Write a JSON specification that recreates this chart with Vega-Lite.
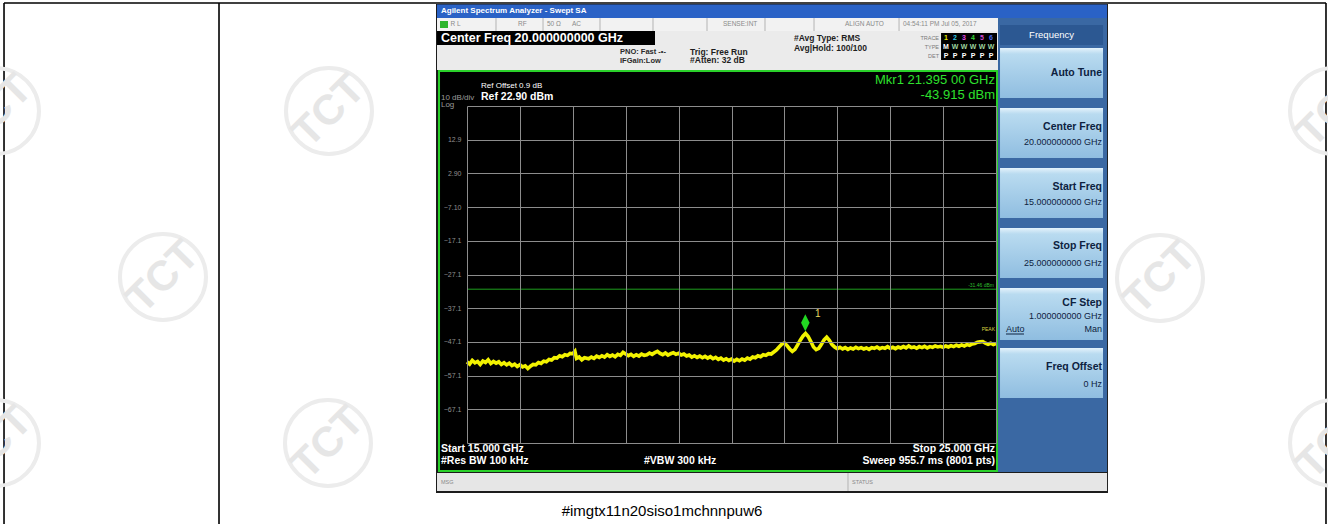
{
  "$schema": "https://vega.github.io/schema/vega-lite/v6.json",
  "autosize": {"type": "none"},
  "padding": {"left": 467, "top": 106, "right": 332, "bottom": 81},
  "width": 529,
  "height": 337,
  "background": "white",
  "config": {"view": {"stroke": null}, "text": {"font": "Liberation Sans"}},
  "resolve": {"scale": {"color": "independent"}},
  "encoding": {
    "x": {"field": "f", "type": "quantitative", "scale": {"domain": [15, 25], "nice": false, "zero": false},
      "axis": {"values": [15, 16, 17, 18, 19, 20, 21, 22, 23, 24, 25], "grid": true, "labels": false, "ticks": false, "domain": false, "title": null, "gridColor": "#8c8c8c", "gridWidth": 1, "zindex": 1}},
    "y": {"field": "lvl", "type": "quantitative", "scale": {"domain": [-77.1, 22.9], "nice": false, "zero": false},
      "axis": {"values": [22.9, 12.9, 2.9, -7.1, -17.1, -27.1, -37.1, -47.1, -57.1, -67.1, -77.1], "grid": true, "ticks": false, "domain": false, "title": null, "gridColor": "#8c8c8c", "gridWidth": 1, "zindex": 1,
        "labelExpr": "datum.value > 22 || datum.value < -77 ? '' : format(datum.value, '.3r')", "labelColor": "#8f8f8f", "labelFontSize": 7, "labelFont": "Liberation Sans", "labelPadding": 6}}
  },
  "layer": [
    {
      "data": {"values": [
        {"f": 6.248, "f2": 31.238, "lvl": 53.464, "lvl2": 53.464},
        {"f": 6.248, "f2": 6.248, "lvl": 53.464, "lvl2": -102},
        {"f": 10.312, "f2": 10.312, "lvl": 53.464, "lvl2": -102},
        {"f": 31.238, "f2": 31.238, "lvl": 53.464, "lvl2": -102}
      ]},
      "mark": {"type": "rule", "color": "#000000", "strokeWidth": 1.6},
      "encoding": {"x2": {"field": "f2"}, "y2": {"field": "lvl2"}}
    },
    {
      "data": {"values": [
        {"f": 6.096, "lvl": 21.416}, {"f": 9.253, "lvl": -27.842}, {"f": 12.391, "lvl": 21.416},
        {"f": 6.096, "lvl": -77.1}, {"f": 12.372, "lvl": -77.1}, {"f": 28.1, "lvl": -28.139},
        {"f": 31.371, "lvl": 21.416}, {"f": 31.371, "lvl": -77.1}
      ]},
      "mark": {"type": "point", "shape": "circle", "filled": false, "size": 7396, "strokeWidth": 4, "color": "#ececec", "opacity": 1}
    },
    {
      "data": {"values": [
        {"f": 6.096, "lvl": 21.416, "label": "TCT"}, {"f": 9.253, "lvl": -27.842, "label": "TCT"}, {"f": 12.391, "lvl": 21.416, "label": "TCT"},
        {"f": 6.096, "lvl": -77.1, "label": "TCT"}, {"f": 12.372, "lvl": -77.1, "label": "TCT"}, {"f": 28.1, "lvl": -28.139, "label": "TCT"},
        {"f": 31.371, "lvl": 21.416, "label": "TCT"}, {"f": 31.371, "lvl": -77.1, "label": "TCT"}
      ]},
      "mark": {"type": "text", "align": "center", "baseline": "middle", "fontSize": 42, "fontWeight": "bold", "angle": -45, "color": "#e6e6e6"},
      "encoding": {"text": {"field": "label"}}
    },
    {
      "data": {"values": [
        {"part": "bezel", "f": 14.414, "f2": 27.117, "lvl": 53.167, "lvl2": -91.937},
        {"part": "titlebar", "f": 14.433, "f2": 27.099, "lvl": 53.019, "lvl2": 49.013},
        {"part": "statusrow", "f": 14.433, "f2": 25.038, "lvl": 49.013, "lvl2": 45.155},
        {"part": "header", "f": 14.433, "f2": 25.038, "lvl": 45.155, "lvl2": 33.583},
        {"part": "cfbox", "f": 14.433, "f2": 18.554, "lvl": 45.155, "lvl2": 41.001},
        {"part": "lxi", "f": 14.49, "f2": 14.641, "lvl": 48.123, "lvl2": 46.045},
        {"part": "tracebox", "f": 23.961, "f2": 25.019, "lvl": 44.562, "lvl2": 36.55},
        {"part": "softpanel", "f": 25.038, "f2": 27.099, "lvl": 49.013, "lvl2": -85.705},
        {"part": "freqhead", "f": 25.076, "f2": 27.023, "lvl": 46.936, "lvl2": 41.001},
        {"part": "msgbar", "f": 14.433, "f2": 27.099, "lvl": -86.002, "lvl2": -91.343}
      ]},
      "mark": {"type": "rect"},
      "encoding": {
        "x2": {"field": "f2"}, "y2": {"field": "lvl2"},
        "color": {"field": "part", "type": "nominal", "legend": null,
          "scale": {"domain": ["bezel", "titlebar", "statusrow", "header", "cfbox", "lxi", "tracebox", "softpanel", "freqhead", "msgbar"],
            "range": ["#1c1c1c", "#2a62c6", "#f2f2f2", "#ebebeb", "#000000", "#2db52d", "#000000", "#3a68a3", "#2c5892", "#e6e6e6"]}}
      }
    },
    {
      "data": {"values": [
        {"f": 25.076, "f2": 27.023, "lvl": 40.111, "lvl2": 25.274},
        {"f": 25.076, "f2": 27.023, "lvl": 22.307, "lvl2": 7.47},
        {"f": 25.076, "f2": 27.023, "lvl": 4.502, "lvl2": -10.334},
        {"f": 25.076, "f2": 27.023, "lvl": -13.302, "lvl2": -28.139},
        {"f": 25.076, "f2": 27.023, "lvl": -31.106, "lvl2": -46.536},
        {"f": 25.076, "f2": 27.023, "lvl": -48.91, "lvl2": -63.747}
      ]},
      "mark": {"type": "rect", "color": {"gradient": "linear", "x1": 0, "y1": 0, "x2": 0, "y2": 1,
        "stops": [{"offset": 0, "color": "#e4f2fb"}, {"offset": 0.12, "color": "#b9dbf0"}, {"offset": 1, "color": "#8fbde0"}]}},
      "encoding": {"x2": {"field": "f2"}, "y2": {"field": "lvl2"}}
    },
    {
      "data": {"values": [{"f": 14.471, "f2": 25.019, "lvl": 33.286, "lvl2": -85.409}]},
      "mark": {"type": "rect", "color": "#000000", "stroke": "#2ad12a", "strokeWidth": 2},
      "encoding": {"x2": {"field": "f2"}, "y2": {"field": "lvl2"}}
    },
    {
      "data": {"values": [
        {"f": 15.548, "f2": 15.548, "lvl": 49.013, "lvl2": 45.155},
        {"f": 16.437, "f2": 16.437, "lvl": 49.013, "lvl2": 45.155},
        {"f": 17.514, "f2": 17.514, "lvl": 49.013, "lvl2": 45.155},
        {"f": 18.516, "f2": 18.516, "lvl": 49.013, "lvl2": 45.155},
        {"f": 19.537, "f2": 19.537, "lvl": 49.013, "lvl2": 45.155},
        {"f": 20.633, "f2": 20.633, "lvl": 49.013, "lvl2": 45.155},
        {"f": 21.56, "f2": 21.56, "lvl": 49.013, "lvl2": 45.155},
        {"f": 23.167, "f2": 23.167, "lvl": 49.013, "lvl2": 45.155},
        {"f": 22.202, "f2": 22.202, "lvl": -86.002, "lvl2": -91.343}
      ]},
      "mark": {"type": "rule", "color": "#b4b4b4", "strokeWidth": 1},
      "encoding": {"x2": {"field": "f2"}, "y2": {"field": "lvl2"}}
    },
    {
      "data": {"values": [{"f": 25.189, "f2": 25.529, "lvl": -44.76, "lvl2": -44.76}]},
      "mark": {"type": "rule", "color": "#0d2240", "strokeWidth": 1},
      "encoding": {"x2": {"field": "f2"}, "y2": {"field": "lvl2"}}
    },
    {
      "data": {"values": [{"f": 15, "f2": 25, "lvl": -31.46}]},
      "mark": {"type": "rule", "color": "#1e9e1e", "strokeWidth": 1},
      "encoding": {"x2": {"field": "f2"}}
    },
    {
      "data": {"values": [
        {"f": 15.00, "lvl": -53.0}, {"f": 15.05, "lvl": -53.7}, {"f": 15.10, "lvl": -52.6}, {"f": 15.15, "lvl": -53.3}, {"f": 15.20, "lvl": -52.9},
        {"f": 15.25, "lvl": -53.8}, {"f": 15.30, "lvl": -52.8}, {"f": 15.35, "lvl": -53.2}, {"f": 15.40, "lvl": -52.4}, {"f": 15.45, "lvl": -53.5},
        {"f": 15.50, "lvl": -52.9}, {"f": 15.55, "lvl": -53.4}, {"f": 15.60, "lvl": -53.0}, {"f": 15.65, "lvl": -53.8}, {"f": 15.70, "lvl": -53.3},
        {"f": 15.75, "lvl": -53.9}, {"f": 15.80, "lvl": -53.4}, {"f": 15.85, "lvl": -54.1}, {"f": 15.90, "lvl": -53.7}, {"f": 15.95, "lvl": -54.4},
        {"f": 16.00, "lvl": -53.9}, {"f": 16.05, "lvl": -54.5}, {"f": 16.10, "lvl": -54.2}, {"f": 16.15, "lvl": -55.0}, {"f": 16.20, "lvl": -54.3},
        {"f": 16.25, "lvl": -53.8}, {"f": 16.30, "lvl": -53.9}, {"f": 16.35, "lvl": -53.2}, {"f": 16.40, "lvl": -53.5}, {"f": 16.45, "lvl": -52.8},
        {"f": 16.50, "lvl": -53.0}, {"f": 16.55, "lvl": -52.3}, {"f": 16.60, "lvl": -52.5}, {"f": 16.65, "lvl": -51.8}, {"f": 16.70, "lvl": -51.9},
        {"f": 16.75, "lvl": -51.2}, {"f": 16.80, "lvl": -51.5}, {"f": 16.85, "lvl": -50.9}, {"f": 16.90, "lvl": -51.1}, {"f": 16.95, "lvl": -50.5},
        {"f": 17.00, "lvl": -50.6}, {"f": 17.04, "lvl": -49.9}, {"f": 17.07, "lvl": -52.0}, {"f": 17.12, "lvl": -51.6}, {"f": 17.17, "lvl": -52.4},
        {"f": 17.22, "lvl": -51.8}, {"f": 17.30, "lvl": -52.1}, {"f": 17.35, "lvl": -51.6}, {"f": 17.40, "lvl": -52.0}, {"f": 17.45, "lvl": -51.3},
        {"f": 17.50, "lvl": -51.7}, {"f": 17.55, "lvl": -51.2}, {"f": 17.60, "lvl": -51.6}, {"f": 17.65, "lvl": -50.9}, {"f": 17.70, "lvl": -51.4},
        {"f": 17.75, "lvl": -51.0}, {"f": 17.80, "lvl": -51.5}, {"f": 17.85, "lvl": -50.8}, {"f": 17.90, "lvl": -51.1}, {"f": 17.95, "lvl": -50.2},
        {"f": 18.00, "lvl": -50.7}, {"f": 18.05, "lvl": -51.2}, {"f": 18.10, "lvl": -50.8}, {"f": 18.15, "lvl": -51.4}, {"f": 18.20, "lvl": -50.9},
        {"f": 18.25, "lvl": -51.3}, {"f": 18.30, "lvl": -50.7}, {"f": 18.35, "lvl": -51.1}, {"f": 18.40, "lvl": -50.9}, {"f": 18.45, "lvl": -50.4},
        {"f": 18.50, "lvl": -50.8}, {"f": 18.55, "lvl": -50.3}, {"f": 18.60, "lvl": -49.9}, {"f": 18.65, "lvl": -50.5}, {"f": 18.70, "lvl": -50.9},
        {"f": 18.75, "lvl": -50.4}, {"f": 18.80, "lvl": -51.0}, {"f": 18.85, "lvl": -50.6}, {"f": 18.90, "lvl": -50.3}, {"f": 18.95, "lvl": -50.8},
        {"f": 19.00, "lvl": -50.5}, {"f": 19.05, "lvl": -51.0}, {"f": 19.10, "lvl": -50.7}, {"f": 19.15, "lvl": -51.3}, {"f": 19.20, "lvl": -51.0},
        {"f": 19.25, "lvl": -51.6}, {"f": 19.30, "lvl": -51.2}, {"f": 19.35, "lvl": -51.7}, {"f": 19.40, "lvl": -51.3}, {"f": 19.45, "lvl": -51.8},
        {"f": 19.50, "lvl": -51.4}, {"f": 19.55, "lvl": -51.9}, {"f": 19.60, "lvl": -51.5}, {"f": 19.65, "lvl": -52.1}, {"f": 19.70, "lvl": -51.7},
        {"f": 19.75, "lvl": -52.3}, {"f": 19.80, "lvl": -51.9}, {"f": 19.85, "lvl": -52.5}, {"f": 19.90, "lvl": -52.1}, {"f": 19.95, "lvl": -52.6},
        {"f": 20.00, "lvl": -52.2}, {"f": 20.05, "lvl": -52.8}, {"f": 20.10, "lvl": -52.3}, {"f": 20.15, "lvl": -52.7}, {"f": 20.20, "lvl": -52.2},
        {"f": 20.25, "lvl": -52.5}, {"f": 20.30, "lvl": -51.9}, {"f": 20.35, "lvl": -52.2}, {"f": 20.40, "lvl": -51.6}, {"f": 20.45, "lvl": -51.8},
        {"f": 20.50, "lvl": -51.2}, {"f": 20.55, "lvl": -51.5}, {"f": 20.60, "lvl": -50.9}, {"f": 20.65, "lvl": -51.1}, {"f": 20.70, "lvl": -50.6},
        {"f": 20.75, "lvl": -50.7}, {"f": 20.80, "lvl": -50.1}, {"f": 20.85, "lvl": -49.5}, {"f": 20.90, "lvl": -48.6}, {"f": 20.95, "lvl": -47.8},
        {"f": 21.00, "lvl": -47.4}, {"f": 21.05, "lvl": -48.2}, {"f": 21.10, "lvl": -49.2}, {"f": 21.15, "lvl": -49.9}, {"f": 21.20, "lvl": -49.3},
        {"f": 21.25, "lvl": -48.0}, {"f": 21.30, "lvl": -46.6}, {"f": 21.35, "lvl": -45.4}, {"f": 21.40, "lvl": -44.6}, {"f": 21.45, "lvl": -45.5},
        {"f": 21.50, "lvl": -47.0}, {"f": 21.55, "lvl": -48.6}, {"f": 21.60, "lvl": -49.4}, {"f": 21.65, "lvl": -49.0}, {"f": 21.70, "lvl": -47.8},
        {"f": 21.75, "lvl": -46.5}, {"f": 21.80, "lvl": -45.7}, {"f": 21.85, "lvl": -46.6}, {"f": 21.90, "lvl": -47.9}, {"f": 21.95, "lvl": -48.6},
        {"f": 22.00, "lvl": -49.1}, {"f": 22.05, "lvl": -48.7}, {"f": 22.10, "lvl": -49.2}, {"f": 22.15, "lvl": -48.8}, {"f": 22.20, "lvl": -49.3},
        {"f": 22.25, "lvl": -48.9}, {"f": 22.30, "lvl": -49.2}, {"f": 22.35, "lvl": -48.7}, {"f": 22.40, "lvl": -49.1}, {"f": 22.45, "lvl": -48.8},
        {"f": 22.50, "lvl": -49.2}, {"f": 22.55, "lvl": -48.9}, {"f": 22.60, "lvl": -49.3}, {"f": 22.65, "lvl": -48.8}, {"f": 22.70, "lvl": -49.0},
        {"f": 22.75, "lvl": -48.6}, {"f": 22.80, "lvl": -49.1}, {"f": 22.85, "lvl": -48.8}, {"f": 22.90, "lvl": -49.0}, {"f": 22.95, "lvl": -48.5},
        {"f": 23.00, "lvl": -49.0}, {"f": 23.05, "lvl": -48.7}, {"f": 23.10, "lvl": -49.1}, {"f": 23.15, "lvl": -48.6}, {"f": 23.20, "lvl": -48.9},
        {"f": 23.25, "lvl": -48.5}, {"f": 23.30, "lvl": -48.9}, {"f": 23.35, "lvl": -48.3}, {"f": 23.40, "lvl": -48.8}, {"f": 23.45, "lvl": -48.6},
        {"f": 23.50, "lvl": -49.0}, {"f": 23.55, "lvl": -48.5}, {"f": 23.60, "lvl": -48.8}, {"f": 23.65, "lvl": -48.4}, {"f": 23.70, "lvl": -48.9},
        {"f": 23.75, "lvl": -48.5}, {"f": 23.80, "lvl": -48.7}, {"f": 23.85, "lvl": -48.3}, {"f": 23.90, "lvl": -48.6}, {"f": 23.95, "lvl": -48.4},
        {"f": 24.00, "lvl": -48.7}, {"f": 24.05, "lvl": -48.3}, {"f": 24.10, "lvl": -48.6}, {"f": 24.15, "lvl": -48.2}, {"f": 24.20, "lvl": -48.5},
        {"f": 24.25, "lvl": -48.1}, {"f": 24.30, "lvl": -48.4}, {"f": 24.35, "lvl": -48.0}, {"f": 24.40, "lvl": -48.3}, {"f": 24.45, "lvl": -47.9},
        {"f": 24.50, "lvl": -48.1}, {"f": 24.55, "lvl": -47.7}, {"f": 24.60, "lvl": -47.6}, {"f": 24.65, "lvl": -47.2}, {"f": 24.70, "lvl": -47.1},
        {"f": 24.75, "lvl": -47.0}, {"f": 24.80, "lvl": -47.5}, {"f": 24.85, "lvl": -47.8}, {"f": 24.90, "lvl": -47.5}, {"f": 24.95, "lvl": -47.9},
        {"f": 25.00, "lvl": -47.6}
      ]},
      "mark": {"type": "line", "color": "#f2f200", "strokeWidth": 3.6}
    },
    {
      "data": {"values": [{"f": 21.395, "lvl": -43.915}]},
      "mark": {"type": "point", "shape": "M0,0L0.5,-1L0,-2L-0.5,-1Z", "filled": true, "size": 289, "color": "#22d822", "opacity": 1}
    },
    {
      "data": {"values": [{"f": 21.578, "lvl": -38.8, "label": "1"}]},
      "mark": {"type": "text", "align": "left", "baseline": "middle", "fontSize": 10, "color": "#e8d860"},
      "encoding": {"text": {"field": "label"}}
    },
    {
      "data": {"values": [{"f": 14.508, "lvl": 51.09, "label": "Agilent Spectrum Analyzer - Swept SA"}]},
      "mark": {"type": "text", "align": "left", "baseline": "middle", "fontSize": 8, "fontWeight": "bold", "color": "#ffffff"},
      "encoding": {"text": {"field": "label"}}
    },
    {
      "data": {"values": [
        {"f": 14.688, "lvl": 47.084, "label": "R L"},
        {"f": 15.964, "lvl": 47.084, "label": "RF"},
        {"f": 16.512, "lvl": 47.084, "label": "50 Ω"},
        {"f": 16.985, "lvl": 47.084, "label": "AC"},
        {"f": 19.839, "lvl": 47.084, "label": "SENSE:INT"},
        {"f": 22.146, "lvl": 47.084, "label": "ALIGN AUTO"},
        {"f": 23.242, "lvl": 47.084, "label": "04:54:11 PM Jul 05, 2017"}
      ]},
      "mark": {"type": "text", "align": "left", "baseline": "middle", "fontSize": 6.5, "color": "#8a8a8a"},
      "encoding": {"text": {"field": "label"}}
    },
    {
      "data": {"values": [{"f": 14.508, "lvl": 43.078, "label": "Center Freq 20.000000000 GHz"}]},
      "mark": {"type": "text", "align": "left", "baseline": "middle", "fontSize": 12.5, "fontWeight": "bold", "color": "#ffffff"},
      "encoding": {"text": {"field": "label"}}
    },
    {
      "data": {"values": [
        {"f": 17.892, "lvl": 38.924, "label": "PNO: Fast  -•-"},
        {"f": 17.892, "lvl": 36.105, "label": "IFGain:Low"}
      ]},
      "mark": {"type": "text", "align": "left", "baseline": "middle", "fontSize": 7.5, "fontWeight": "bold", "color": "#2a2a2a"},
      "encoding": {"text": {"field": "label"}}
    },
    {
      "data": {"values": [
        {"f": 19.216, "lvl": 39.072, "label": "Trig: Free Run"},
        {"f": 19.216, "lvl": 36.402, "label": "#Atten: 32 dB"},
        {"f": 21.182, "lvl": 42.93, "label": "#Avg Type: RMS"},
        {"f": 21.182, "lvl": 40.259, "label": "Avg|Hold: 100/100"}
      ]},
      "mark": {"type": "text", "align": "left", "baseline": "middle", "fontSize": 8.5, "fontWeight": "bold", "color": "#1e1e1e"},
      "encoding": {"text": {"field": "label"}}
    },
    {
      "data": {"values": [
        {"f": 23.923, "lvl": 42.93, "label": "TRACE"},
        {"f": 23.923, "lvl": 40.407, "label": "TYPE"},
        {"f": 23.923, "lvl": 37.885, "label": "DET"}
      ]},
      "mark": {"type": "text", "align": "right", "baseline": "middle", "fontSize": 5.5, "color": "#7a7a7a"},
      "encoding": {"text": {"field": "label"}}
    },
    {
      "data": {"values": [
        {"f": 24.055, "lvl": 42.93, "label": "1", "ch": "t1"}, {"f": 24.225, "lvl": 42.93, "label": "2", "ch": "t2"},
        {"f": 24.395, "lvl": 42.93, "label": "3", "ch": "t3"}, {"f": 24.565, "lvl": 42.93, "label": "4", "ch": "t4"},
        {"f": 24.736, "lvl": 42.93, "label": "5", "ch": "t5"}, {"f": 24.906, "lvl": 42.93, "label": "6", "ch": "t6"},
        {"f": 24.055, "lvl": 40.407, "label": "M", "ch": "m"}, {"f": 24.225, "lvl": 40.407, "label": "W", "ch": "w"},
        {"f": 24.395, "lvl": 40.407, "label": "W", "ch": "w"}, {"f": 24.565, "lvl": 40.407, "label": "W", "ch": "w"},
        {"f": 24.736, "lvl": 40.407, "label": "W", "ch": "w"}, {"f": 24.906, "lvl": 40.407, "label": "W", "ch": "w"},
        {"f": 24.055, "lvl": 37.885, "label": "P", "ch": "p"}, {"f": 24.225, "lvl": 37.885, "label": "P", "ch": "p"},
        {"f": 24.395, "lvl": 37.885, "label": "P", "ch": "p"}, {"f": 24.565, "lvl": 37.885, "label": "P", "ch": "p"},
        {"f": 24.736, "lvl": 37.885, "label": "P", "ch": "p"}, {"f": 24.906, "lvl": 37.885, "label": "P", "ch": "p"}
      ]},
      "mark": {"type": "text", "align": "center", "baseline": "middle", "fontSize": 7, "fontWeight": "bold"},
      "encoding": {
        "text": {"field": "label"},
        "color": {"field": "ch", "type": "nominal", "legend": null,
          "scale": {"domain": ["t1", "t2", "t3", "t4", "t5", "t6", "m", "w", "p"],
            "range": ["#e8e800", "#32c8e6", "#e64ce6", "#38d838", "#d24cd2", "#4a6cf0", "#ffffff", "#9fd49f", "#ffffff"]}}
      }
    },
    {
      "data": {"values": [{"f": 15.265, "lvl": 28.835, "label": "Ref Offset 0.9 dB"}]},
      "mark": {"type": "text", "align": "left", "baseline": "middle", "fontSize": 8, "color": "#ffffff"},
      "encoding": {"text": {"field": "label"}}
    },
    {
      "data": {"values": [
        {"f": 15.265, "lvl": 25.571, "label": "Ref 22.90 dBm"},
        {"f": 14.508, "lvl": -78.88, "label": "Start 15.000 GHz"},
        {"f": 14.508, "lvl": -82.441, "label": "#Res BW 100 kHz"},
        {"f": 18.346, "lvl": -82.441, "label": "#VBW 300 kHz"}
      ]},
      "mark": {"type": "text", "align": "left", "baseline": "middle", "fontSize": 10.5, "fontWeight": "bold", "color": "#ffffff"},
      "encoding": {"text": {"field": "label"}}
    },
    {
      "data": {"values": [
        {"f": 24.981, "lvl": -78.88, "label": "Stop 25.000 GHz"},
        {"f": 24.981, "lvl": -82.441, "label": "Sweep  955.7 ms (8001 pts)"}
      ]},
      "mark": {"type": "text", "align": "right", "baseline": "middle", "fontSize": 10.5, "fontWeight": "bold", "color": "#ffffff"},
      "encoding": {"text": {"field": "label"}}
    },
    {
      "data": {"values": [
        {"f": 14.508, "lvl": 25.274, "label": "10 dB/div"},
        {"f": 14.508, "lvl": 23.345, "label": "Log"}
      ]},
      "mark": {"type": "text", "align": "left", "baseline": "middle", "fontSize": 8, "color": "#9a9a9a"},
      "encoding": {"text": {"field": "label"}}
    },
    {
      "data": {"values": [
        {"f": 24.981, "lvl": 30.615, "label": "Mkr1 21.395 00 GHz"},
        {"f": 24.981, "lvl": 26.164, "label": "-43.915 dBm"}
      ]},
      "mark": {"type": "text", "align": "right", "baseline": "middle", "fontSize": 13, "color": "#2ee02e"},
      "encoding": {"text": {"field": "label"}}
    },
    {
      "data": {"values": [{"f": 24.962, "lvl": -30.216, "label": "-31.46 dBm"}]},
      "mark": {"type": "text", "align": "right", "baseline": "middle", "fontSize": 5, "color": "#2ebf2e"},
      "encoding": {"text": {"field": "label"}}
    },
    {
      "data": {"values": [{"f": 24.981, "lvl": -43.272, "label": "PEAK"}]},
      "mark": {"type": "text", "align": "right", "baseline": "middle", "fontSize": 5, "color": "#d8d040"},
      "encoding": {"text": {"field": "label"}}
    },
    {
      "data": {"values": [{"f": 26.05, "lvl": 43.968, "label": "Frequency"}]},
      "mark": {"type": "text", "align": "center", "baseline": "middle", "fontSize": 9.5, "color": "#ffffff"},
      "encoding": {"text": {"field": "label"}}
    },
    {
      "data": {"values": [
        {"f": 27.004, "lvl": 32.692, "label": "Auto Tune"},
        {"f": 27.004, "lvl": 16.669, "label": "Center Freq"},
        {"f": 27.004, "lvl": -1.136, "label": "Start Freq"},
        {"f": 27.004, "lvl": -18.643, "label": "Stop Freq"},
        {"f": 27.004, "lvl": -35.557, "label": "CF Step"},
        {"f": 27.004, "lvl": -54.548, "label": "Freq Offset"}
      ]},
      "mark": {"type": "text", "align": "right", "baseline": "middle", "fontSize": 10.5, "fontWeight": "bold", "color": "#0d2240"},
      "encoding": {"text": {"field": "label"}}
    },
    {
      "data": {"values": [
        {"f": 27.004, "lvl": 12.218, "label": "20.000000000 GHz"},
        {"f": 27.004, "lvl": -5.587, "label": "15.000000000 GHz"},
        {"f": 27.004, "lvl": -23.688, "label": "25.000000000 GHz"},
        {"f": 27.004, "lvl": -39.415, "label": "1.000000000 GHz"},
        {"f": 27.004, "lvl": -43.272, "label": "Man"},
        {"f": 27.004, "lvl": -59.593, "label": "0 Hz"}
      ]},
      "mark": {"type": "text", "align": "right", "baseline": "middle", "fontSize": 9, "color": "#0d2240"},
      "encoding": {"text": {"field": "label"}}
    },
    {
      "data": {"values": [{"f": 25.189, "lvl": -43.272, "label": "Auto"}]},
      "mark": {"type": "text", "align": "left", "baseline": "middle", "fontSize": 9, "color": "#0d2240"},
      "encoding": {"text": {"field": "label"}}
    },
    {
      "data": {"values": [
        {"f": 14.508, "lvl": -88.673, "label": "MSG"},
        {"f": 22.278, "lvl": -88.673, "label": "STATUS"}
      ]},
      "mark": {"type": "text", "align": "left", "baseline": "middle", "fontSize": 5.5, "color": "#8a8a8a"},
      "encoding": {"text": {"field": "label"}}
    },
    {
      "data": {"values": [{"f": 18.686, "lvl": -97.278, "label": "#imgtx11n20siso1mchnnpuw6"}]},
      "mark": {"type": "text", "align": "center", "baseline": "middle", "fontSize": 15, "color": "#000000"},
      "encoding": {"text": {"field": "label"}}
    }
  ]
}
